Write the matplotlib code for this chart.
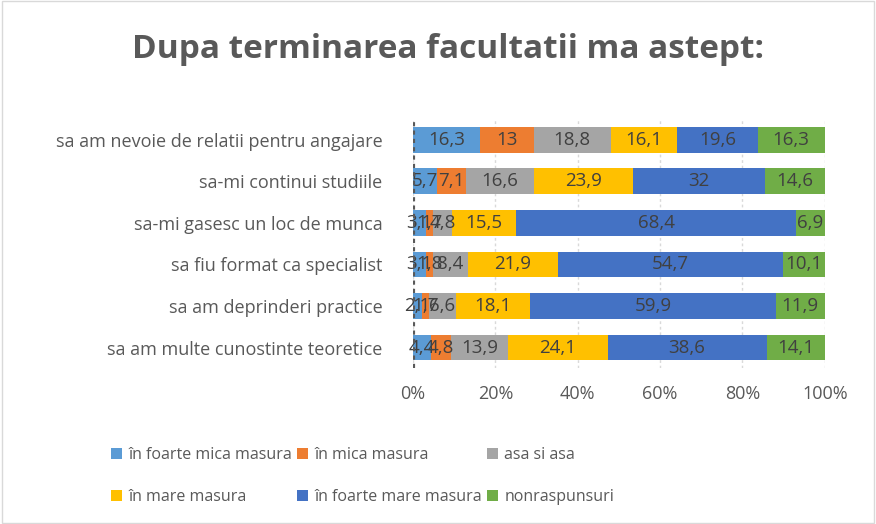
import numpy as np
import matplotlib
matplotlib.use('Agg')
import matplotlib.pyplot as plt
from matplotlib.patches import Rectangle

categories = ['sa am nevoie de relatii pentru angajare', 'sa-mi continui studiile',
              'sa-mi gasesc un loc de munca', 'sa fiu format ca specialist',
              'sa am deprinderi practice', 'sa am multe cunostinte teoretice']
series_names = ['în foarte mica masura', 'în mica masura', 'asa si asa',
                'în mare masura', 'în foarte mare masura', 'nonraspunsuri']
foarte_mica = [16.3, 5.7, 3.1, 3.1, 2.1, 4.4]
mica = [13, 7.1, 1.7, 1.8, 1.7, 4.8]
asa_si_asa = [18.8, 16.6, 4.8, 8.4, 6.6, 13.9]
mare = [16.1, 23.9, 15.5, 21.9, 18.1, 24.1]
foarte_mare = [19.6, 32, 68.4, 54.7, 59.9, 38.6]
nonraspunsuri = [16.3, 14.6, 6.9, 10.1, 11.9, 14.1]
colors = ['#5B9BD5', '#ED7D31', '#A5A5A5', '#FFC000', '#4472C4', '#70AD47']

plt.rcParams['font.family'] = ['Open Sans', 'DejaVu Sans']
fig = plt.figure(figsize=(8.76, 5.24), dpi=100)
fig.patches.append(Rectangle((0.002, 0.002), 0.996, 0.996, transform=fig.transFigure,
                             fill=False, edgecolor='#D9D9D9', lw=1))
ax = fig.add_axes([0.4715, 0.297, 0.47, 0.476])

data = np.array([foarte_mica, mica, asa_si_asa, mare, foarte_mare, nonraspunsuri])
totals = data.sum(axis=0)
pct = data / totals * 100
y = np.arange(len(categories))
left = np.zeros(len(categories))
handles = []
for i in range(len(series_names)):
    b = ax.barh(y, pct[i], left=left, height=0.62, color=colors[i], label=series_names[i])
    handles.append(b)
    for j in range(len(categories)):
        ax.text(left[j] + pct[i][j] / 2, y[j], f'{data[i][j]:g}'.replace('.', ','),
                ha='center', va='center', fontsize=13.5, color='#404040')
    left += pct[i]

ax.set_ylim(len(categories) - 0.5, -0.5)
ax.set_xlim(0, 100)
ax.set_xticks([0, 20, 40, 60, 80, 100])
ax.set_xticklabels(['0%', '20%', '40%', '60%', '80%', '100%'], fontsize=13, color='#595959')
ax.set_yticks(y)
ax.set_yticklabels(categories, fontsize=13, color='#595959')
ax.tick_params(length=0, pad=12)
ax.tick_params(axis='y', pad=22)
ax.xaxis.grid(True, color='#D9D9D9', linestyle=(0, (2, 2)), lw=1)
ax.set_axisbelow(True)
for s in ['top', 'right', 'bottom', 'left']:
    ax.spines[s].set_visible(False)
# dark checkered axis line at 0%
ax.axvline(0, color='#595959', linestyle=(0, (1, 1)), lw=3, zorder=3)

fig.text(0.511, 0.905, 'Dupa terminarea facultatii ma astept:', ha='center', va='center',
         fontsize=24, fontweight='bold', color='#595959')

order = [0, 3, 1, 4, 2, 5]
leg = fig.legend([handles[k] for k in order], [series_names[k] for k in order],
                 ncol=3, loc='upper left', bbox_to_anchor=(0.11, 0.174), frameon=False,
                 fontsize=11.5, handlelength=0.7, handleheight=0.7, handletextpad=0.4,
                 columnspacing=0.3, labelspacing=1.6)
for t in leg.get_texts():
    t.set_color('#595959')

fig.savefig('out.png', dpi=100)
